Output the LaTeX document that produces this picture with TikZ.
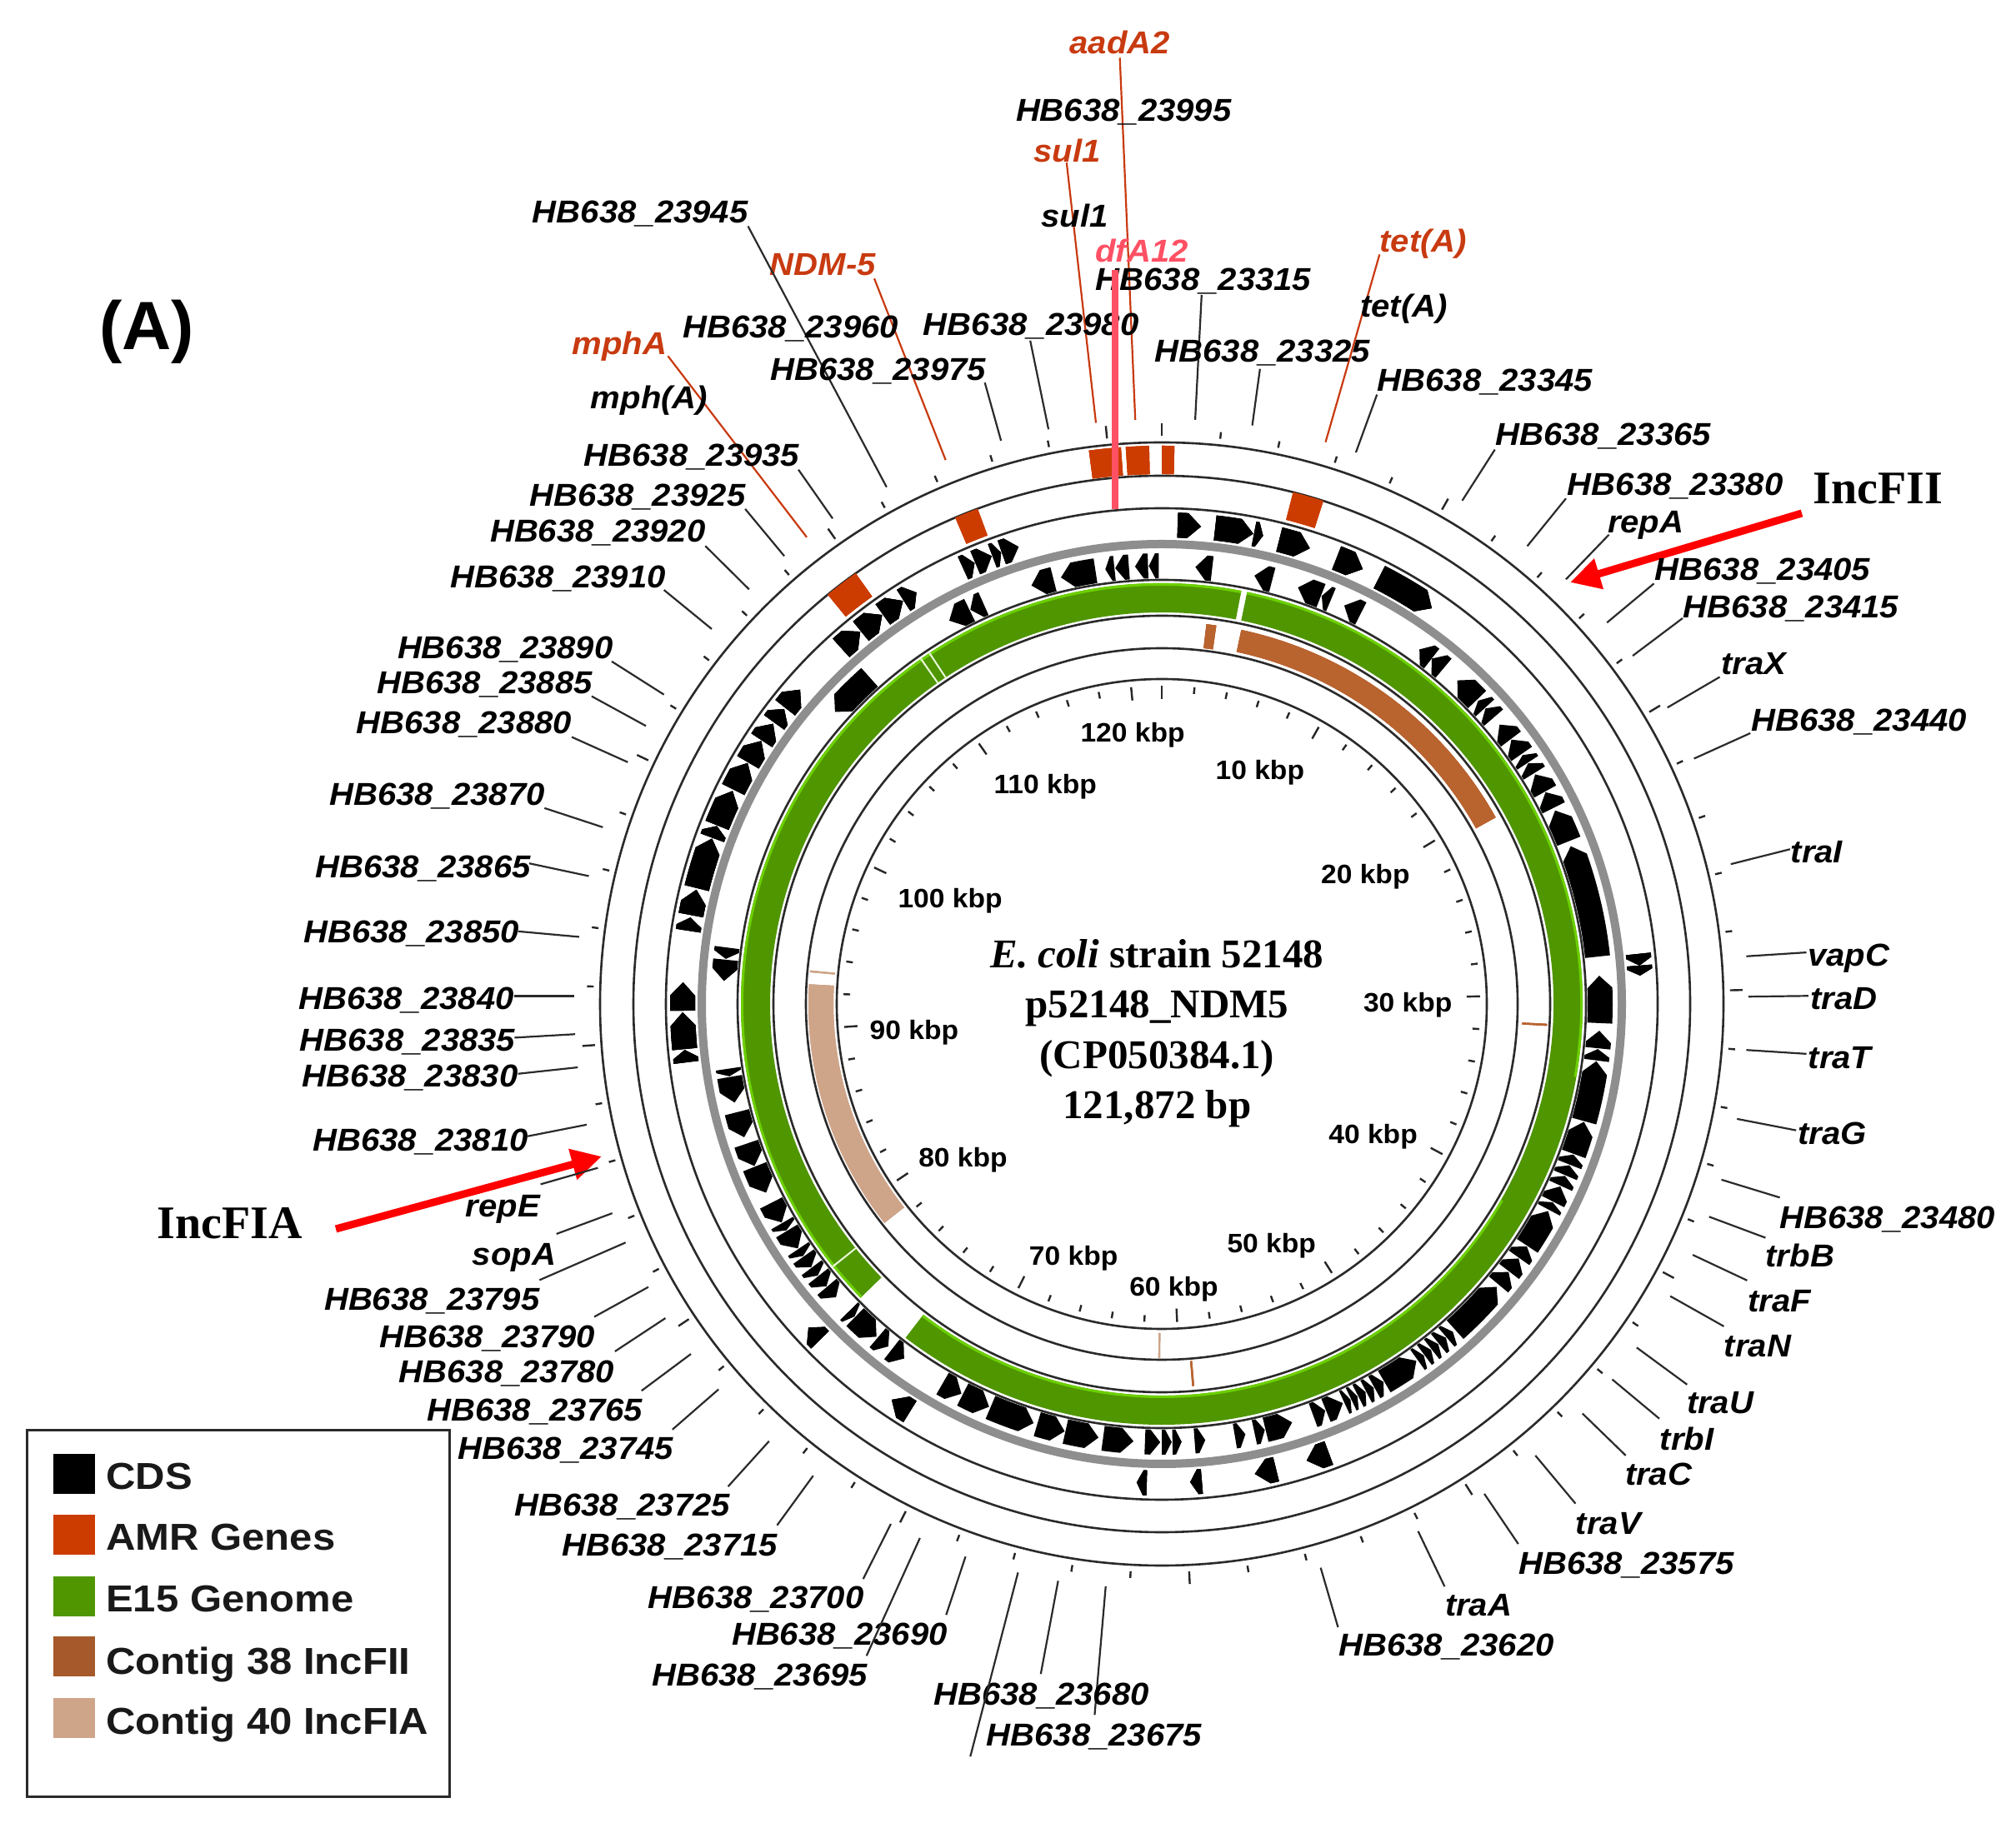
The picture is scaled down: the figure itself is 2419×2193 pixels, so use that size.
\documentclass[tikz,border=0pt]{standalone}
\usepackage{fontspec}
\usetikzlibrary{arrows.meta}
\setmainfont{Liberation Sans}
\newfontfamily\labfont[FakeStretch=1.055]{Liberation Sans}
\newfontfamily\kbpfont[FakeStretch=1.05]{Liberation Sans}
\newfontfamily\legfont[FakeStretch=1.09]{Liberation Sans}
\newfontfamily\serbf{Liberation Serif}
\definecolor{amr}{HTML}{CC3C00}
\definecolor{redtxt}{HTML}{C83A10}
\definecolor{genome}{HTML}{4F9600}
\definecolor{genomehi}{HTML}{6CD000}
\definecolor{cfii}{HTML}{B9632F}
\definecolor{cfia}{HTML}{CFA58A}
\definecolor{ringgrey}{HTML}{8E8E8E}
\definecolor{pinkred}{HTML}{FF5064}
\definecolor{inkline}{HTML}{2A2A2A}
\newcommand\annsec[5]{%
  \pgfmathsetmacro\ta{90-(#3)}\pgfmathsetmacro\tb{90-(#4)}%
  \fill[#5] (\ta:#1) arc[start angle=\ta,end angle=\tb,radius=#1] -- (\tb:#2) arc[start angle=\tb,end angle=\ta,radius=#2] -- cycle;}
\newcommand\cds[4]{%
  \pgfmathsetmacro\ta{90-(#3)}\pgfmathsetmacro\tb{90-(#4)}%
  \pgfmathsetmacro\dd{min(1.6,0.65*abs(#4-#3))}%
  \pgfmathsetmacro\sg{(#4>#3)?1:-1}%
  \pgfmathsetmacro\tc{\tb+\sg*\dd}%
  \pgfmathsetmacro\rm{(#1+#2)/2}%
  \fill[black] (\ta:#1) arc[start angle=\ta,end angle=\tc,radius=#1] -- (\tb:\rm) -- (\tc:#2) arc[start angle=\tc,end angle=\ta,radius=#2] -- cycle;}
\newcommand\lab[8]{%
  \node[lbl] (#1) at (#3,#4) {#2};
  \coordinate (#1-a) at (#5,#6);
  \coordinate (#1-b) at (#7,#8);
  \draw[leader] (#1-a) -- (#1-b);}
\newcommand\redlab[8]{%
  \node[lbl,text=redtxt] (#1) at (#3,#4) {#2};
  \coordinate (#1-a) at (#5,#6);
  \coordinate (#1-b) at (#7,#8);
  \draw[leader,color=redtxt] (#1-a) -- (#1-b);}
\tikzset{
  lbl/.style={inner sep=0pt,text depth=0pt,font=\labfont\bfseries\itshape\fontsize{38}{40}\selectfont,text=black},
  leader/.style={line width=2.2pt,color=inkline},
  circ/.style={line width=2.6pt,color=inkline},
  tick/.style={line width=2.4pt,color=black!85},
  kbp/.style={inner sep=0pt,text depth=0pt,font=\kbpfont\bfseries\fontsize{32}{34}\selectfont,text=black},
  legtxt/.style={inner sep=0pt,text depth=0pt,anchor=west,font=\legfont\bfseries\fontsize{45}{47}\selectfont,text=black!90},
  swatch/.style={inner sep=0pt,minimum width=49.5pt,minimum height=47.5pt,anchor=north west},
  titletxt/.style={inner sep=0pt,text depth=0pt,font=\serbf\bfseries\fontsize{49}{51}\selectfont,text=black},
  incl/.style={inner sep=0pt,font=\serbf\bfseries\fontsize{56}{58}\selectfont,text=black},
  redarrow/.style={line width=9pt,color=red,-{Triangle[length=36pt,width=36pt]}}
}
\begin{document}
\begin{tikzpicture}[x=1pt,y=1pt]
\useasboundingbox (0,0) rectangle (2419,2193);
\fill[white] (0,0) rectangle (2419,2193);
\coordinate (C) at (1394,988);
\begin{scope}[shift={(C)}]
  % backbone circles
  \foreach \r in {674,634,595,509,466,427,390} \draw[circ] (0,0) circle[radius=\r];
  \draw[line width=10pt,color=ringgrey] (0,0) circle[radius=552];
  % ticks
  \foreach \k in {0,2,...,120}{
    \pgfmathsetmacro\ang{90-\k*2.95392}
    \pgfmathtruncatemacro\m{mod(\k,10)}
    \ifnum\m=0
      \draw[tick] (\ang:382) -- (\ang:366);
      \draw[tick] (\ang:682) -- (\ang:697);
    \else
      \draw[tick] (\ang:382) -- (\ang:374);
      \draw[tick] (\ang:682) -- (\ang:690);
    \fi
  }
  % genome ring
  \annsec{470}{505}{11.7}{217.5}{genome}
  \annsec{470}{505}{225.7}{370.9}{genome}
  \annsec{502}{505}{225.7}{370.9}{genomehi}
  \annsec{502}{505}{11.7}{100}{genomehi}
  \annsec{470}{473}{120}{217.5}{genomehi}
  \foreach \a in {325.1,326.5,231.4} \annsec{470}{505}{\a-0.12}{\a+0.12}{white!85!genomehi}
  % contigs
  \annsec{432}{459}{12}{60.8}{cfii}
  \annsec{430}{459}{6.7}{8.2}{cfii}
  \annsec{433}{463}{92.95}{93.25}{cfii}
  \annsec{430}{460}{175.15}{175.45}{cfii}
  \annsec{394}{424}{231.7}{273.2}{cfia}
  \annsec{394}{424}{275.15}{275.45}{cfia}
  \annsec{395}{425}{180.25}{180.55}{cfia}
  % AMR genes
  \annsec{636}{670}{-7.5}{-4.2}{amr}
  \annsec{636}{670}{-3.7}{-1.3}{amr}
  \annsec{636}{670}{0}{1.3}{amr}
  \annsec{600}{634}{14.4}{17.8}{amr}
  \annsec{600}{634}{-23}{-20.4}{amr}
  \annsec{600}{634}{-39.2}{-35.4}{amr}
  % CDS, outer ring (clockwise)
  \foreach \sa/\sb in {1.9/4.7,6.4/11,11.1/12.2,14.2/18,21.4/24.8,27/34.3,84/85.4,85.4/86.6,159.6/162.4,166.2/168.8,175.2/176.6,181.8/183,211.7/214.3,225.5/227.5,263/264.5,264.6/269,269.2/272.6,278.8/280.4,280.7/283.8,284/290.2,290.3/291.8,291.9/296.4,296.6/300.2,300.3/303.3,303.4/305.8,306/308,308.2/311,318/321,321.1/324.3,324.4/327.3,327.4/329.2,335.5/337,337.1/339.2,339.3/340.4,340.5/342.6}
    \cds{560}{590}{\sa}{\sb};
  % CDS, inner ring (counter-clockwise)
  \foreach \sa/\sb in {6.6/4.4,14.6/12.2,21.3/18.1,22.7/21.4,27/24.6,38/36,40/38,46/42.4,47.5/46.2,49.2/47.6,52.8/50.4,55.2/52.9,56.6/55.4,58.2/56.7,61/58.4,63.4/61.1,68.2/63.8,83.8/68.9,92.5/86.3,95.8/93.5,97.4/95.9,105.5/97.5,110/105.6,111.5/110.1,113/111.6,114.5/113.1,116.8/114.6,118/116.9,123.5/118.2,125.4/123.6,127.6/125.5,129.8/127.7,138/130.2,139.5/138.4,140.8/139.6,142/140.9,143.2/142.1,144.3/143.3,149.5/144.5,151/149.6,152.2/151.1,153.4/152.3,154.4/153.5,155.4/154.5,158/155.6,159.8/158.1,166.3/162.7,167.8/166.4,170.4/169,175.7/174.3,178.6/177.4,180/178.7,182.2/180.2,187.7/183.7,192.7/188.3,196.5/192.8,203/197,207/203.2,210/207.2,218/216,220.4/218.6,224.4/220.6,225.5/224.5,229.8/228,231.6/229.9,233/231.7,234.8/233.1,236/234.9,238.8/236.1,240/238.9,243/240.1,248.2/244.5,251.4/248.3,255.7/252.3,260.4/257,261.5/260.5,275.8/273,277.4/275.9,318.2/311.8,334/331,336/334.1,345.7/342.7,351.3/346.7,353.8/352.6,355.7/353.9,358.2/356.5,359.6/358.3}
    \cds{511}{541}{\sa}{\sb};
\end{scope}
% legend (pixel positions)
\draw[line width=3pt,color=inkline] (32,37) rectangle (539,476);
\node[swatch,fill=black] (s1) at (64,448) {};
\node[swatch,fill=amr] (s2) at (64,375) {};
\node[swatch,fill=genome] (s3) at (64,301) {};
\node[swatch,fill=cfii!90!black] (s4) at (64,229) {};
\node[swatch,fill=cfia] (s5) at (64,155) {};
\node[legtxt] (t1) at (127,421) {CDS};
\node[legtxt] (t2) at (127,348) {AMR Genes};
\node[legtxt] (t3) at (127,274) {E15 Genome};
\node[legtxt] (t4) at (127,200) {Contig 38 IncFII};
\node[legtxt] (t5) at (127,128) {Contig 40 IncFIA};
\node[inner sep=0pt,font=\fontspec{Liberation Sans}\bfseries\fontsize{82}{84}\selectfont] (panel) at (176,1795) {(A)};
% arrows
\node[incl] (ii) at (2253,1607) {IncFII};
\node[incl] (ia) at (276,725) {IncFIA};
\coordinate (iis) at (2162,1577);
\coordinate (iit) at (1884,1494);
\coordinate (ias) at (403,718);
\coordinate (iat) at (722,805);
\draw[redarrow] (iis) -- (iit);
\draw[redarrow] (ias) -- (iat);
% labels, in the coordinates of the shrunk view
\begin{scope}[shift={(0pt,2193pt)},x=1.5427pt,y=-1.5427pt]
\coordinate (pa) at (867.3,209.8);
\coordinate (pb) at (867.3,396);
\node[kbp] (k120) at (881,570) {120 kbp};
\node[kbp] (k110) at (813,610) {110 kbp};
\node[kbp] (k100) at (739,699) {100 kbp};
\node[kbp] (k90) at (711,801) {90 kbp};
\node[kbp] (k80) at (749,900) {80 kbp};
\node[kbp] (k70) at (835,977) {70 kbp};
\node[kbp] (k60) at (913,1001) {60 kbp};
\node[kbp] (k50) at (989,967) {50 kbp};
\node[kbp] (k40) at (1068,882) {40 kbp};
\node[kbp] (k30) at (1095,780) {30 kbp};
\node[kbp] (k20) at (1062,680) {20 kbp};
\node[kbp] (k10) at (980,599) {10 kbp};
\node[titletxt] (c1) at (900,742) {\textit{E. coli} strain 52148};
\node[titletxt] (c2) at (900,781) {p52148\_NDM5};
\node[titletxt] (c3) at (900,820) {(CP050384.1)};
\node[titletxt] (c4) at (900,859) {121,872 bp};
\redlab{aad}{aadA2}{871}{33}{871}{45}{883}{326.6}
\node[lbl] (h995) at (874,86) {HB638\_23995};
\redlab{sulr}{sul1}{830}{117}{829.6}{126.4}{852.4}{329}
\node[lbl] (sulb) at (836,168) {sul1};
\redlab{ndm}{NDM-5}{640}{206}{680}{216.7}{735.5}{357.9}
\redlab{mpr}{mphA}{482}{267}{519.5}{277}{627.5}{418}
\node[lbl] (mpb) at (505,309) {mph(A)};
\redlab{ter}{tet(A)}{1107}{187}{1073}{198}{1031}{344}
\node[lbl] (teb) at (1092,238) {tet(A)};
\lab{h945}{HB638\_23945}{498}{165}{581.8}{176}{689.6}{379}
\node[lbl] (h960) at (615,254) {HB638\_23960};
\lab{h975}{HB638\_23975}{683}{287}{766}{297.7}{778.6}{342.9}
\lab{h980}{HB638\_23980}{802}{252}{801.3}{265}{815.5}{334}
\lab{h315}{HB638\_23315}{936}{217}{934.6}{229.5}{929.6}{326.6}
\lab{h325}{HB638\_23325}{982}{273}{980}{287}{974}{331}
\lab{h345}{HB638\_23345}{1155}{296}{1071}{307}{1054.6}{352}
\lab{h365}{HB638\_23365}{1247}{338}{1162.7}{349.8}{1137.3}{389.5}
\lab{h380}{HB638\_23380}{1303}{377}{1218}{387.8}{1187.9}{424.9}
\lab{repa}{repA}{1280}{406}{1251.4}{416}{1218}{450.7}
\lab{h405}{HB638\_23405}{1371}{443}{1286.4}{454}{1249.9}{484.4}
\lab{h415}{HB638\_23415}{1393}{472}{1308.7}{481}{1269.9}{510.2}
\lab{trax}{traX}{1364}{516}{1337.6}{526.7}{1296.9}{550.5}
\lab{h440}{HB638\_23440}{1446}{560}{1361.4}{570.4}{1317.6}{590.2}
\lab{trai}{traI}{1413}{663}{1392.3}{660.7}{1346.2}{672.3}
\lab{vapc}{vapC}{1438}{743}{1405}{741}{1358.3}{744}
\lab{trad}{traD}{1434}{777}{1406.6}{774.8}{1359.9}{775.4}
\lab{trat}{traT}{1431}{823}{1405}{819.9}{1358.3}{816.9}
\lab{trag}{traG}{1425}{882}{1397}{879.4}{1351}{870.5}
\lab{h480}{HB638\_23480}{1468}{947}{1384.3}{931.7}{1338.9}{917.8}
\lab{trbb}{trbB}{1400}{977}{1373.2}{963}{1329.3}{946.6}
\lab{traf}{traF}{1384}{1012}{1358.9}{996.2}{1316.6}{976.3}
\lab{tran}{traN}{1367}{1047}{1340.8}{1031.9}{1299.1}{1008.4}
\lab{trau}{traU}{1338}{1091}{1312.2}{1077.2}{1273}{1048.4}
\lab{trbi}{trbI}{1312}{1119}{1290.6}{1103.7}{1254}{1073.2}
\lab{trac}{traC}{1290}{1147}{1264.5}{1132.4}{1230.8}{1099.7}
\lab{trav}{traV}{1251}{1185}{1225.4}{1169.8}{1194.2}{1132.4}
\lab{h575}{HB638\_23575}{1265}{1216}{1180.9}{1201.2}{1154.5}{1162.2}
\lab{traa}{traA}{1150}{1249}{1123.6}{1234.3}{1103}{1191.3}
\lab{h620}{HB638\_23620}{1125}{1280}{1040.7}{1266}{1027.2}{1219.7}
\lab{h675}{HB638\_23675}{851}{1350}{851.4}{1334.2}{860}{1234.2}
\lab{h680}{HB638\_23680}{810}{1318}{809.5}{1302.4}{823}{1229.9}
\coordinate (fa) at (754.7,1366.6);
\coordinate (fb) at (791.8,1223.4);
\draw[leader] (fa) -- (fb);
\lab{h690}{HB638\_23690}{653}{1271}{735.9}{1256.4}{751}{1211}
\lab{h695}{HB638\_23695}{591}{1303}{674}{1288.2}{715.5}{1196.6}
\lab{h700}{HB638\_23700}{588}{1243}{671.4}{1228.4}{692.9}{1185.6}
\lab{h715}{HB638\_23715}{521}{1202}{604.4}{1186.7}{632.5}{1148.1}
\lab{h725}{HB638\_23725}{484}{1171}{566.3}{1156.5}{598.2}{1121.2}
\lab{h745}{HB638\_23745}{440}{1127}{523}{1112.2}{558.9}{1080.9}
\lab{h765}{HB638\_23765}{416}{1097}{499}{1082}{537.4}{1053.4}
\lab{h780}{HB638\_23780}{394}{1067}{478.3}{1051.4}{517.6}{1025.5}
\lab{h790}{HB638\_23790}{379}{1040}{462.2}{1024.5}{504.3}{1001.3}
\lab{h795}{HB638\_23795}{336}{1011}{419.6}{995.9}{486.6}{966.7}
\lab{sopa}{sopA}{400}{976}{432.8}{960}{476.2}{943.9}
\lab{repe}{repE}{391}{938}{420.4}{921.4}{465}{908.6}
\lab{h810}{HB638\_23810}{327}{887}{410.5}{884}{456.3}{875}
\lab{h830}{HB638\_23830}{319}{837}{403}{835.4}{449.4}{830.4}
\lab{h835}{HB638\_23835}{317}{809}{400.2}{807.3}{447.3}{804.6}
\lab{h840}{HB638\_23840}{316}{777}{399.7}{774.9}{446.8}{774.9}
\lab{h850}{HB638\_23850}{320}{725}{403}{724.6}{450.5}{728.9}
\lab{h865}{HB638\_23865}{329}{674}{411.6}{671.7}{458}{681.6}
\lab{h870}{HB638\_23870}{340}{618}{423.5}{628.7}{468.9}{643.6}
\lab{h880}{HB638\_23880}{361}{562}{444.7}{573.4}{488.3}{593}
\lab{h885}{HB638\_23885}{377}{531}{460.2}{541.7}{502.4}{564.8}
\lab{h890}{HB638\_23890}{393}{504}{475.8}{514.6}{516.4}{540.4}
\lab{h910}{HB638\_23910}{434}{449}{516.4}{459}{553.6}{489.4}
\lab{h920}{HB638\_23920}{465}{413}{548.6}{424.8}{582.6}{458.5}
\lab{h925}{HB638\_23925}{496}{385}{579.6}{396}{610}{432.6}
\lab{h935}{HB638\_23935}{538}{354}{621}{365.4}{647.6}{403.4}
\draw[line width=8pt,color=pinkred] (pa) -- (pb);
\node[lbl,text=pinkred] (dfa) at (888,195) {dfA12};
\end{scope}
\end{tikzpicture}
\end{document}
